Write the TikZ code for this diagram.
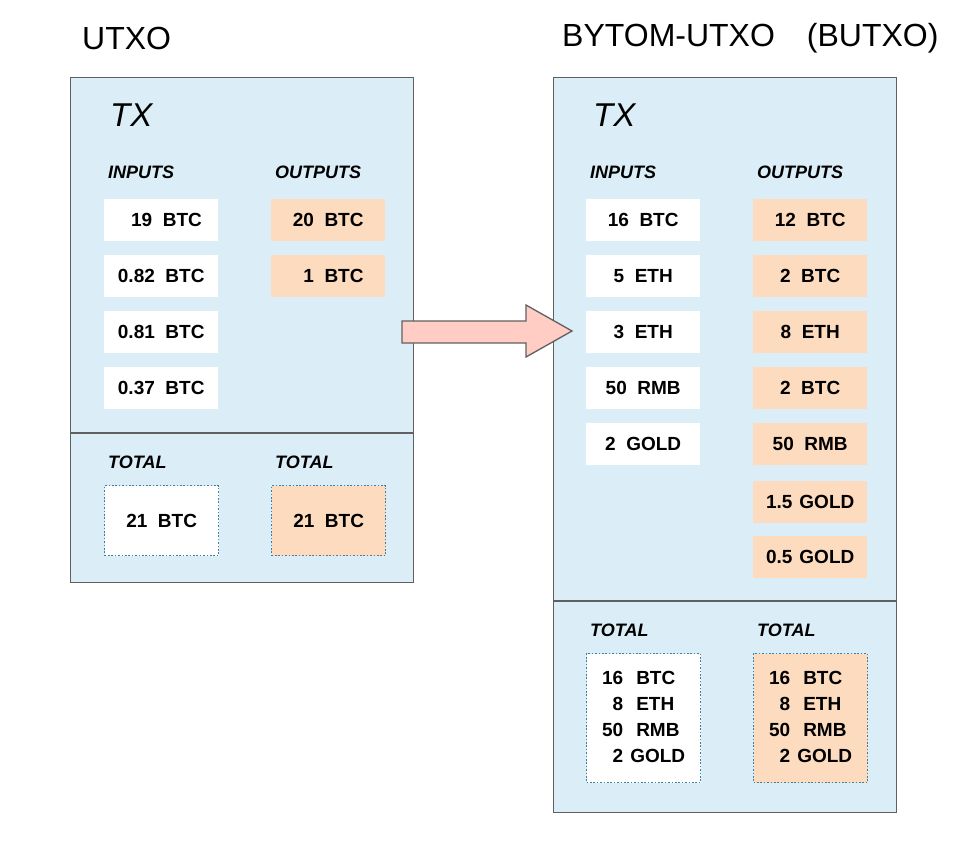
\documentclass[tikz,border=0pt]{standalone}
\usepackage{fontspec}
\setmainfont{Liberation Sans}
\usetikzlibrary{positioning}
\definecolor{PanelBlue}{RGB}{219,238,248}
\definecolor{PanelEdge}{RGB}{96,96,96}
\definecolor{OutPeach}{RGB}{253,219,190}
\definecolor{ArrowPink}{RGB}{255,205,196}
\definecolor{DotTeal}{RGB}{62,128,158}
\tikzset{
  panel/.style   ={rectangle, draw=PanelEdge, line width=1.4pt, fill=PanelBlue,
                   inner sep=0pt, anchor=north west},
  divider/.style ={draw=PanelEdge, line width=1.4pt},
  inbox/.style   ={rectangle, fill=white, minimum width=114pt, minimum height=42pt,
                   inner sep=0pt, font=\fontsize{19}{22}\selectfont\bfseries},
  outbox/.style  ={inbox, fill=OutPeach},
  totbox/.style  ={inbox, draw=DotTeal, line width=1.3pt, dash pattern=on 1.6pt off 1.8pt},
  tottbox/.style ={totbox, fill=OutPeach},
  colhead/.style ={anchor=west, inner sep=0pt, font=\fontsize{18}{20}\selectfont\bfseries\itshape},
  txlabel/.style ={anchor=west, inner sep=0pt, font=\fontsize{33}{36}\selectfont\itshape},
  title/.style   ={anchor=west, inner sep=0pt, font=\fontsize{32}{36}\selectfont},
  bigarrow/.style={draw=PanelEdge, line width=1.3pt, fill=ArrowPink, line join=miter},
}
\newcommand{\sumlist}{\begin{tabular}{@{}r@{\hspace{13pt}}l@{}}16&BTC\\8&ETH\\50&RMB\\2&\hspace{-6pt}GOLD\end{tabular}}

\begin{document}
\begin{tikzpicture}[x=1pt, y=-1pt, node distance=13.5pt]
  \useasboundingbox (0,0) rectangle (975,862);
  % left: plain UTXO
  \node[title] (ltitle) at (82,38) {UTXO};
  \node[panel, minimum width=343pt, minimum height=505pt] (lpanel) at (70,77) {};
  \coordinate (lsplit) at (0,433);
  \draw[divider] (lpanel.west |- lsplit) -- (lpanel.east |- lsplit);
  \node[txlabel] (ltx) at (110,115) {TX};
  \node[colhead] (linhead) at (108,172) {INPUTS};
  \node[colhead] (louthead) at (275,172) {OUTPUTS};
  \node[inbox, anchor=north west] (lin1) at (104,199) {\ \ 19\ \ BTC};
  \node[inbox, below=of lin1] (lin2) {0.82\ \ BTC};
  \node[inbox, below=of lin2] (lin3) {0.81\ \ BTC};
  \node[inbox, below=of lin3] (lin4) {0.37\ \ BTC};
  \node[outbox, anchor=north west] (lout1) at (271,199) {20\ \ BTC};
  \node[outbox, below=of lout1] (lout2) {\ \ 1\ \ BTC};
  \node[colhead] (linsum) at (108,462) {TOTAL};
  \node[colhead] (loutsum) at (275,462) {TOTAL};
  \node[totbox, anchor=north west, minimum height=70pt] (lintot) at (104,485) {21\ \ BTC};
  \node[tottbox, anchor=north west, minimum height=70pt] (louttot) at (271,485) {21\ \ BTC};

  % right: bytom utxo
  \node[title] (rtitle) at (562,38) {BYTOM-UTXO\hspace{32pt}(BUTXO)};
  \node[panel, minimum width=343pt, minimum height=735pt] (rpanel) at (553,77) {};
  \coordinate (rsplit) at (0,601);
  \draw[divider] (rpanel.west |- rsplit) -- (rpanel.east |- rsplit);
  \node[txlabel] (rtx) at (593,115) {TX};
  \node[colhead] (rinhead) at (590,172) {INPUTS};
  \node[colhead] (routhead) at (757,172) {OUTPUTS};
  \node[inbox, anchor=north west] (rin1) at (586,199) {16\ \ BTC};
  \node[inbox, below=of rin1] (rin2) {5\ \ ETH};
  \node[inbox, below=of rin2] (rin3) {3\ \ ETH};
  \node[inbox, below=of rin3] (rin4) {50\ \ RMB};
  \node[inbox, below=of rin4] (rin5) {2\ \ GOLD};
  \node[outbox, anchor=north west] (rout1) at (753,199) {12\ \ BTC};
  \node[outbox, below=of rout1] (rout2) {2\ \ BTC};
  \node[outbox, below=of rout2] (rout3) {8\ \ ETH};
  \node[outbox, below=of rout3] (rout4) {2\ \ BTC};
  \node[outbox, below=of rout4] (rout5) {50\ \ RMB};
  \node[outbox, below=16pt of rout5] (rout6) {1.5\hspace{7pt}GOLD};
  \node[outbox, below=12pt of rout6] (rout7) {0.5\hspace{7pt}GOLD};
  \node[colhead] (rinsum) at (590,630) {TOTAL};
  \node[colhead] (routsum) at (757,630) {TOTAL};
  \node[totbox, anchor=north west, minimum height=129pt, font=\fontsize{19}{26}\selectfont\bfseries] (rintot) at (586,653) {\sumlist};
  \node[tottbox, anchor=north west, minimum height=129pt, font=\fontsize{19}{26}\selectfont\bfseries] (routtot) at (753,653) {\sumlist};

  % block arrow between the two
  \draw[bigarrow] (402,321) -- (526,321) -- (526,305) -- (572,331)
    -- (526,357) -- (526,343) -- (402,343) -- cycle;
\end{tikzpicture}
\end{document}
